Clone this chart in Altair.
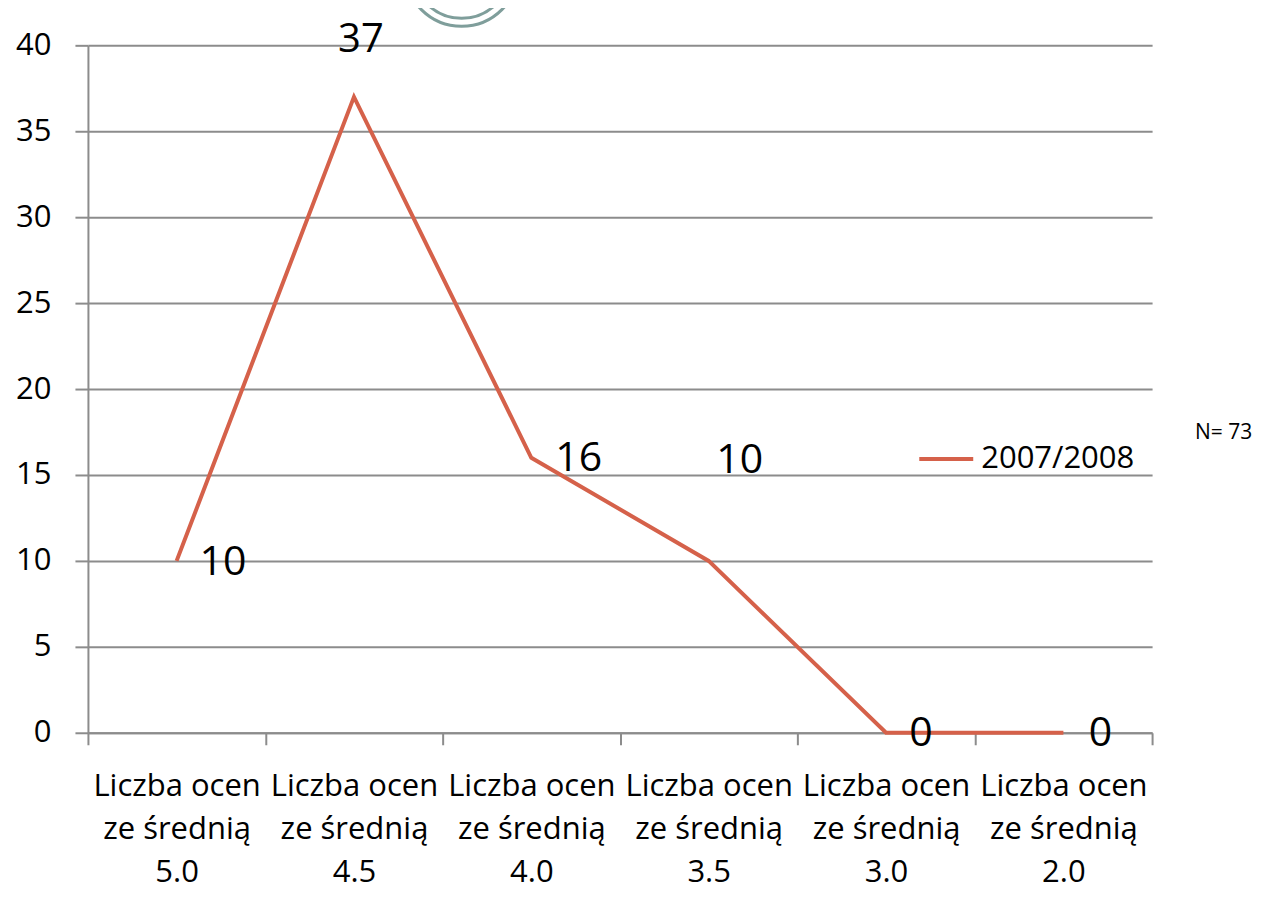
import altair as alt
import pandas as pd

categories = [
    "Liczba ocen\nze średnią\n5.0",
    "Liczba ocen\nze średnią\n4.5",
    "Liczba ocen\nze średnią\n4.0",
    "Liczba ocen\nze średnią\n3.5",
    "Liczba ocen\nze średnią\n3.0",
    "Liczba ocen\nze średnią\n2.0",
]
values = [10, 37, 16, 10, 0, 0]
series_name = "2007/2008"
note_text = "N= 73"

df = pd.DataFrame({"cat": categories, "value": values, "series": [series_name] * len(values)})

FONT = "Open Sans"
LINE_COLOR = "#d5614a"
GRID = "#8c8c8c"

x_enc = alt.X(
    "cat:N",
    sort=categories,
    title=None,
    scale=alt.Scale(paddingInner=0, paddingOuter=0),
    axis=alt.Axis(
        labelAngle=0,
        labelExpr="split(datum.label, '\\n')",
        labelFont=FONT,
        labelFontSize=31,
        labelColor="black",
        labelLineHeight=43,
        labelPadding=27,
        labelBaseline="top",
        tickBand="extent",
        tickSize=12,
        tickWidth=2,
        tickColor=GRID,
        domainColor=GRID,
        domainWidth=2,
        grid=False,
    ),
)
y_enc = alt.Y(
    "value:Q",
    title=None,
    scale=alt.Scale(domain=[0, 40], nice=False),
    axis=alt.Axis(
        values=[0, 5, 10, 15, 20, 25, 30, 35, 40],
        labelFont=FONT,
        labelFontSize=31,
        labelColor="black",
        labelPadding=24,
        tickSize=13,
        tickWidth=2,
        tickColor=GRID,
        domainColor=GRID,
        domainWidth=2,
        gridColor=GRID,
        gridWidth=2,
        gridOpacity=1,
    ),
)

base = alt.Chart(df).encode(x=x_enc, y=y_enc)

line = base.mark_line(strokeWidth=4).encode(
    color=alt.Color(
        "series:N",
        scale=alt.Scale(range=[LINE_COLOR]),
        legend=alt.Legend(
            title=None,
            orient="none",
            legendX=830,
            legendY=385,
            padding=0,
            symbolType="stroke",
            symbolSize=2916,
            symbolStrokeWidth=4,
            labelFont=FONT,
            labelFontSize=31,
            labelColor="black",
            labelOffset=6,
        ),
    )
)

text_style = dict(font=FONT, color="black")

def label_layer(idx, size=41, **kw):
    return (
        base.transform_filter(alt.FieldEqualPredicate(field="cat", equal=categories[idx]))
        .mark_text(fontSize=size, **text_style, **kw)
        .encode(text="value:Q")
    )

labels = [
    label_layer(0, align="left", baseline="middle", dx=23, dy=2),
    label_layer(1, size=40, align="center", baseline="alphabetic", dx=7, dy=-45),
    label_layer(2, align="left", baseline="middle", dx=24, dy=1),
    label_layer(3, align="center", baseline="middle", dx=31, dy=-100),
    label_layer(4, align="center", baseline="middle", dx=35, dy=1),
    label_layer(5, align="center", baseline="middle", dx=37, dy=1),
]

note = alt.Chart(pd.DataFrame({"t": [note_text]})).mark_text(
    font=FONT, fontSize=21, color="black", align="left", baseline="middle"
).encode(text="t:N", x=alt.value(1108), y=alt.value(388))

one = pd.DataFrame({"k": [0]})
logo_outer = alt.Chart(one).mark_point(
    shape="circle", filled=False, strokeWidth=3, color="#7f9e9b", opacity=1, size=12996
).encode(x=alt.value(374), y=alt.value(-76))
logo_inner = alt.Chart(one).mark_point(
    shape="circle", filled=False, strokeWidth=3, color="#7f9e9b", opacity=1, size=9604
).encode(x=alt.value(374), y=alt.value(-76))

chart = alt.layer(logo_outer, logo_inner, line, *labels, note).properties(
    width=1065,
    height=688,
    padding={"left": 80, "top": 37, "right": 104, "bottom": 158},
    autosize=alt.AutoSizeParams(type="none"),
).configure_view(stroke=None)

chart.save("out.html", embed_options={"renderer": "svg", "actions": False})
